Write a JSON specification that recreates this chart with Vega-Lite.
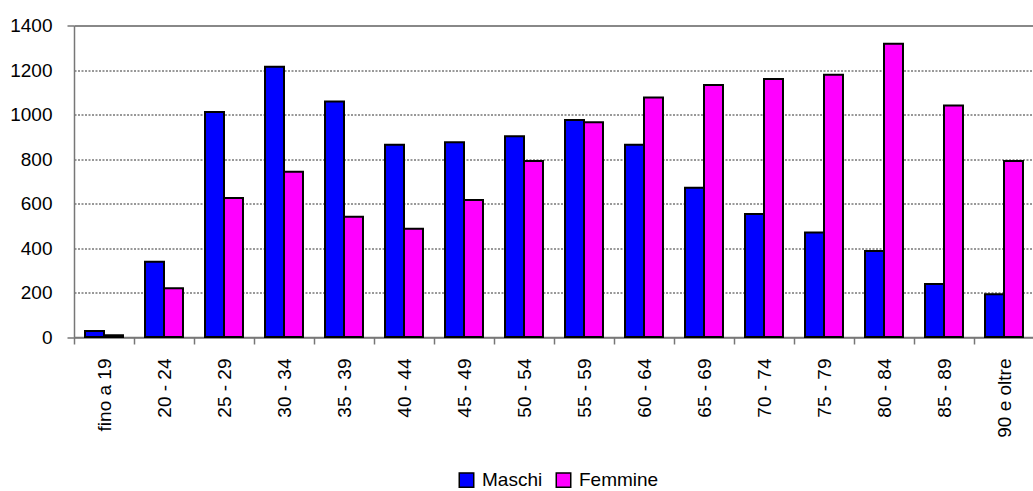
{
  "$schema": "https://vega.github.io/schema/vega-lite/v6.json",
  "width": 960,
  "height": 311.5,
  "autosize": {"type": "none"},
  "padding": {"left": 74, "top": 25.5, "right": 0, "bottom": 154},
  "background": "white",
  "config": {
    "font": "Liberation Sans",
    "view": {"stroke": null}
  },
  "data": {
    "values": [
      {"eta": "fino a 19", "sesso": "Maschi", "n": 27},
      {"eta": "fino a 19", "sesso": "Femmine", "n": 8},
      {"eta": "20 - 24", "sesso": "Maschi", "n": 338},
      {"eta": "20 - 24", "sesso": "Femmine", "n": 219},
      {"eta": "25 - 29", "sesso": "Maschi", "n": 1011},
      {"eta": "25 - 29", "sesso": "Femmine", "n": 625},
      {"eta": "30 - 34", "sesso": "Maschi", "n": 1215},
      {"eta": "30 - 34", "sesso": "Femmine", "n": 743},
      {"eta": "35 - 39", "sesso": "Maschi", "n": 1058},
      {"eta": "35 - 39", "sesso": "Femmine", "n": 541},
      {"eta": "40 - 44", "sesso": "Maschi", "n": 864},
      {"eta": "40 - 44", "sesso": "Femmine", "n": 487},
      {"eta": "45 - 49", "sesso": "Maschi", "n": 875},
      {"eta": "45 - 49", "sesso": "Femmine", "n": 616},
      {"eta": "50 - 54", "sesso": "Maschi", "n": 902},
      {"eta": "50 - 54", "sesso": "Femmine", "n": 791},
      {"eta": "55 - 59", "sesso": "Maschi", "n": 975},
      {"eta": "55 - 59", "sesso": "Femmine", "n": 965},
      {"eta": "60 - 64", "sesso": "Maschi", "n": 864},
      {"eta": "60 - 64", "sesso": "Femmine", "n": 1076},
      {"eta": "65 - 69", "sesso": "Maschi", "n": 671},
      {"eta": "65 - 69", "sesso": "Femmine", "n": 1133},
      {"eta": "70 - 74", "sesso": "Maschi", "n": 553},
      {"eta": "70 - 74", "sesso": "Femmine", "n": 1160},
      {"eta": "75 - 79", "sesso": "Maschi", "n": 470},
      {"eta": "75 - 79", "sesso": "Femmine", "n": 1179},
      {"eta": "80 - 84", "sesso": "Maschi", "n": 387},
      {"eta": "80 - 84", "sesso": "Femmine", "n": 1318},
      {"eta": "85 - 89", "sesso": "Maschi", "n": 238},
      {"eta": "85 - 89", "sesso": "Femmine", "n": 1040},
      {"eta": "90 e oltre", "sesso": "Maschi", "n": 192},
      {"eta": "90 e oltre", "sesso": "Femmine", "n": 791}
    ]
  },
  "mark": {"type": "bar", "stroke": "black", "strokeWidth": 2},
  "encoding": {
    "x": {
      "field": "eta",
      "type": "nominal",
      "sort": null,
      "scale": {"paddingInner": 0, "paddingOuter": 0},
      "axis": {
        "title": null,
        "labelAngle": -90,
        "labelFontSize": 19,
        "labelColor": "black",
        "labelPadding": 14,
        "tickBand": "extent",
        "tickSize": 7,
        "tickColor": "#777",
        "tickWidth": 1.5,
        "domainColor": "#777",
        "domainWidth": 1.5,
        "grid": false
      }
    },
    "xOffset": {
      "field": "sesso",
      "type": "nominal",
      "sort": ["Maschi", "Femmine"],
      "scale": {"paddingInner": 0, "paddingOuter": 0.58}
    },
    "y": {
      "field": "n",
      "type": "quantitative",
      "scale": {"domain": [0, 1400], "nice": false},
      "axis": {
        "title": null,
        "format": "d",
        "values": [0, 200, 400, 600, 800, 1000, 1200, 1400],
        "labelFontSize": 19,
        "labelColor": "black",
        "labelPadding": 15,
        "tickSize": 7,
        "tickWidth": 1.5,
        "tickColor": {"condition": {"test": "datum.value === 0 || datum.value === 1400", "value": "#777"}, "value": "transparent"},
        "domainColor": "#777",
        "domainWidth": 1.5,
        "grid": true,
        "gridColor": {"condition": {"test": "datum.value === 1400", "value": "#888"}, "value": "#333"},
        "gridWidth": {"condition": {"test": "datum.value === 1400", "value": 2}, "value": 1},
        "gridDash": {"condition": {"test": "datum.value === 1400 || datum.value === 0", "value": []}, "value": [2, 1.5]}
      }
    },
    "color": {
      "field": "sesso",
      "type": "nominal",
      "sort": ["Maschi", "Femmine"],
      "scale": {"domain": ["Maschi", "Femmine"], "range": ["#0000FF", "#FF00FF"]},
      "legend": {
        "title": null,
        "orient": "none",
        "legendX": 383,
        "legendY": 445,
        "direction": "horizontal",
        "symbolType": "square",
        "symbolSize": 210,
        "symbolStrokeColor": "black",
        "symbolStrokeWidth": 1.5,
        "symbolOpacity": 1,
        "labelFontSize": 19,
        "labelColor": "black",
        "labelOffset": 6,
        "columnPadding": 10
      }
    }
  }
}
